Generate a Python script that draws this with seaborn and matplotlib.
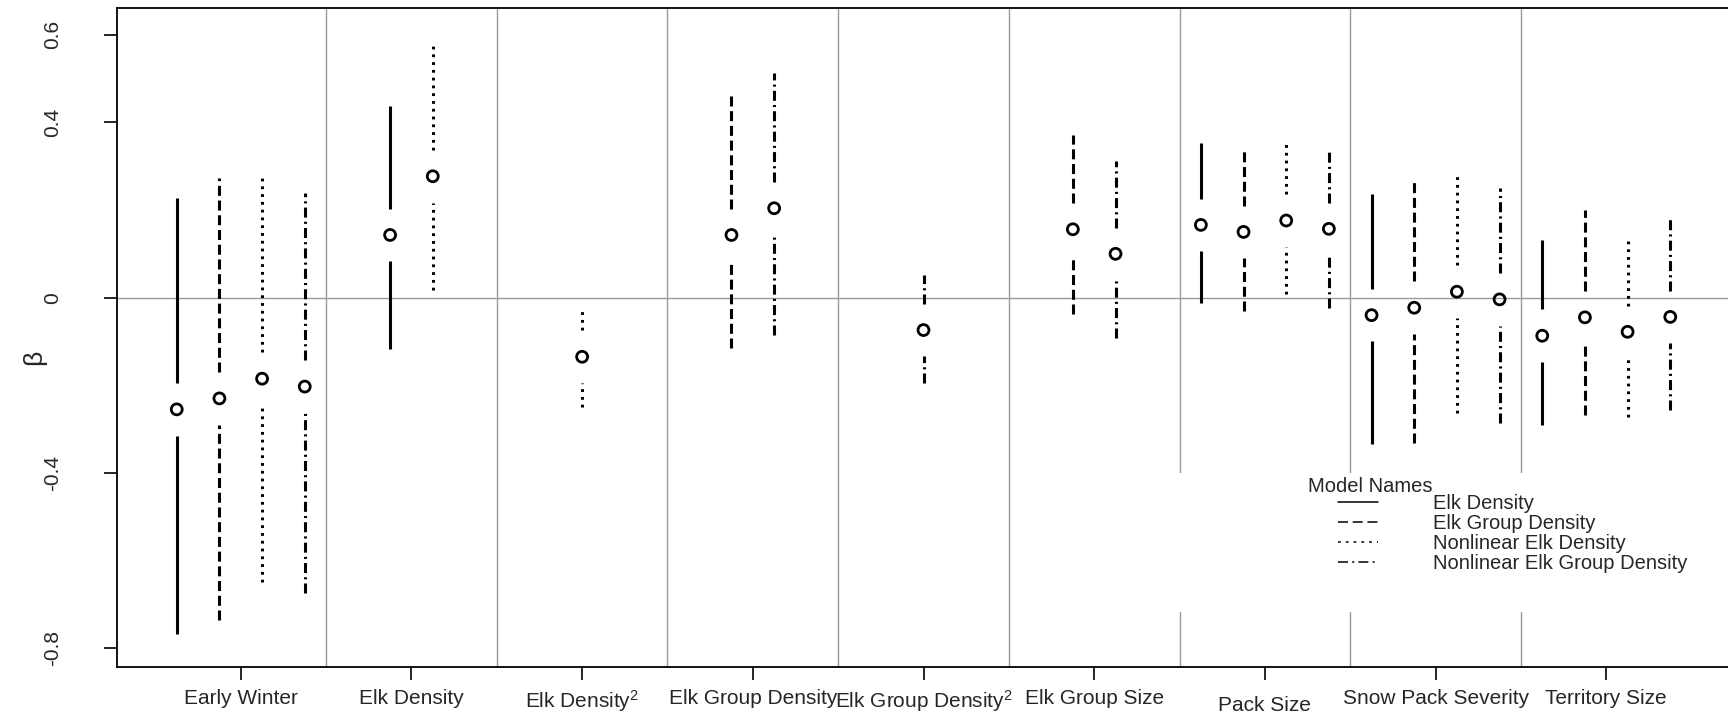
import numpy as np
import pandas as pd
import matplotlib
matplotlib.use('Agg')
import matplotlib.pyplot as plt
import seaborn as sns
from matplotlib.lines import Line2D
from matplotlib.patches import Rectangle

# categories on the x axis
categories = ['Early Winter', 'Elk Density', 'Elk Density$^2$', 'Elk Group Density',
              'Elk Group Density$^2$', 'Elk Group Size', 'Pack Size',
              'Snow Pack Severity', 'Territory Size']
models = ['Elk Density', 'Elk Group Density', 'Nonlinear Elk Density',
          'Nonlinear Elk Group Density']
nan = np.nan

# estimates and interval ends, one list per model
est_elk = [-0.255, 0.143, nan, nan, nan, nan, 0.166, -0.040, -0.087]
lo_elk = [-0.767, -0.118, nan, nan, nan, nan, -0.012, -0.334, -0.291]
hi_elk = [0.227, 0.438, nan, nan, nan, nan, 0.354, 0.236, 0.131]

est_grp = [-0.230, nan, nan, 0.143, nan, 0.156, 0.150, -0.023, -0.045]
lo_grp = [-0.736, nan, nan, -0.116, nan, -0.038, -0.031, -0.331, -0.267]
hi_grp = [0.272, nan, nan, 0.460, nan, 0.372, 0.339, 0.266, 0.200]

est_nl = [-0.185, 0.277, -0.135, nan, nan, nan, 0.176, 0.0135, -0.078]
lo_nl = [-0.649, 0.018, -0.250, nan, nan, nan, 0.008, -0.264, -0.272]
hi_nl = [0.280, 0.579, -0.021, nan, nan, nan, 0.351, 0.285, 0.138]

est_nlg = [-0.203, nan, nan, 0.204, -0.074, 0.100, 0.157, -0.004, -0.044]
lo_nlg = [-0.675, nan, nan, -0.086, -0.195, -0.093, -0.023, -0.287, -0.257]
hi_nlg = [0.238, nan, nan, 0.513, 0.052, 0.312, 0.339, 0.250, 0.181]

yticks = [-0.8, -0.4, 0, 0.4, 0.6]
ytick_labels = ['-0.8', '-0.4', '0', '0.4', '0.6']

sns.set_theme(style='ticks')
plt.rcParams['font.family'] = ['Liberation Sans', 'DejaVu Sans']
plt.rcParams['mathtext.fontset'] = 'custom'
plt.rcParams['mathtext.rm'] = 'Liberation Sans'
plt.rcParams['mathtext.it'] = 'Liberation Sans'
plt.rcParams['lines.scale_dashes'] = False

# long table: one row per model x category
rows = []
for m, est, lo, hi in zip(models,
                          [est_elk, est_grp, est_nl, est_nlg],
                          [lo_elk, lo_grp, lo_nl, lo_nlg],
                          [hi_elk, hi_grp, hi_nl, hi_nlg]):
    for i, c in enumerate(categories):
        if not np.isnan(est[i]):
            rows.append(dict(model=m, cat=i + 1, est=est[i], lo=lo[i], hi=hi[i]))
df = pd.DataFrame(rows)
df['model'] = pd.Categorical(df['model'], categories=models, ordered=True)
df = df.sort_values(['cat', 'model'])
# spread the models inside each category, 0.25 apart
df['k'] = df.groupby('cat').cumcount()
df['n'] = df.groupby('cat')['est'].transform('size')
df['x'] = df['cat'] + (df['k'] - (df['n'] - 1) / 2) * 0.25

styles = {
    'Elk Density': '-',
    'Elk Group Density': (0, (7.2, 3.4)),
    'Nonlinear Elk Density': (0, (2.0, 3.6)),
    'Nonlinear Elk Group Density': (0, (7.2, 3.0, 1.5, 3.0)),
}

fig = plt.figure(figsize=(17.28, 7.27), dpi=100)
ax = fig.add_axes([117 / 1728, 60 / 727, 1613 / 1728, 659 / 727])
ax.set_xlim(0.275, 9.725)
ax.set_ylim(-0.843, 0.661)

# grey guide lines
ax.axhline(0, color='#9a9a9a', lw=1, zorder=1)
for b in np.arange(1.5, 9, 1):
    ax.axvline(b, color='#9a9a9a', lw=1, zorder=1)

# intervals, broken around the point estimate
gap = 0.06
for m in models:
    d = df[df['model'] == m]
    ax.vlines(d['x'], d['est'] + gap, d['hi'], colors='black', linewidth=2.2,
              linestyles=styles[m], zorder=3)
    ax.vlines(d['x'], d['lo'], d['est'] - gap, colors='black', linewidth=2.2,
              linestyles=styles[m], zorder=3)

sns.scatterplot(data=df, x='x', y='est', ax=ax, marker='o', s=62,
                facecolors='none', edgecolor='black', linewidth=2.0,
                legend=False, zorder=4)

ax.set_xticks(range(1, 10))
ax.set_xticklabels(categories, fontsize=15)
ax.set_yticks(yticks)
ax.set_yticklabels(ytick_labels, fontsize=15, rotation=90, va='center')
ax.tick_params(axis='both', direction='out', length=9.5, width=1.2, color='black')
ax.tick_params(axis='x', pad=6)
ax.tick_params(axis='y', pad=30)
for lab in ax.get_xticklabels():
    if lab.get_text() == 'Pack Size':
        lab.set_y(-0.012)
ax.set_xlabel('')
ax.set_ylabel('β', fontsize=19, rotation=90)
ax.yaxis.set_label_coords(-0.044, 0.47)
for s in ax.spines.values():
    s.set_color('black')
    s.set_linewidth(1.3)

# white legend area
ax.add_patch(Rectangle((1170 / 1728, 115 / 727), 560 / 1728, 139 / 727,
                       transform=fig.transFigure, facecolor='white',
                       edgecolor='none', zorder=5))
fig.text(1308 / 1728, 1 - 486 / 727, 'Model Names', fontsize=14.5,
         va='center', ha='left', zorder=6)
handles = [Line2D([], [], color='black', lw=1.1, linestyle=styles[m]) for m in models]
leg = fig.legend(handles, models, loc='upper left',
                 bbox_to_anchor=(1338 / 1728, 1 - 494 / 727), frameon=False,
                 fontsize=14.5, handlelength=2.0, handletextpad=2.7,
                 labelspacing=0.05, borderpad=0, borderaxespad=0)
leg.set_zorder(6)

fig.savefig('out.png', dpi=100)
